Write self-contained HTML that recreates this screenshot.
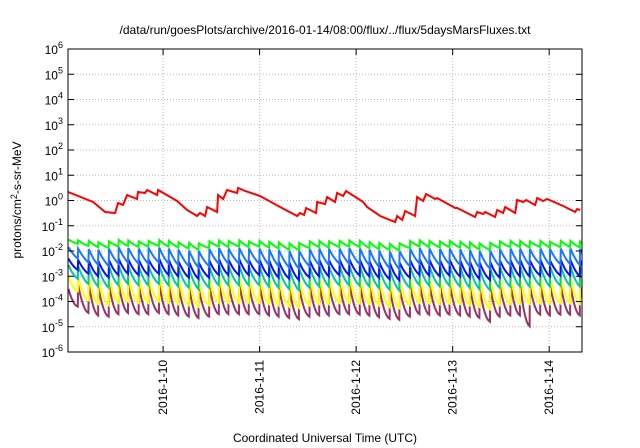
<!DOCTYPE html>
<html><head><meta charset="utf-8"><style>
html,body{margin:0;padding:0;background:#fff;}
svg{display:block;font-family:"Liberation Sans",sans-serif;}
</style></head><body>
<svg id="chart" width="640" height="448" viewBox="0 0 640 448" xmlns="http://www.w3.org/2000/svg">
<rect width="640" height="448" fill="#fff"/>
<text x="325" y="34" font-size="12" text-anchor="middle" fill="#000">/data/run/goesPlots/archive/2016-01-14/08:00/flux/../flux/5daysMarsFluxes.txt</text>
<text transform="translate(21,200) rotate(-90)" font-size="12" text-anchor="middle" fill="#000">protons/cm<tspan font-size="9" dy="-4">2</tspan><tspan dy="4">-s-sr-MeV</tspan></text>
<text x="325" y="442" font-size="12" text-anchor="middle" fill="#000">Coordinated Universal Time (UTC)</text>
<g id="grid"></g><g id="series"></g><g id="axes"></g>
</svg>
<script>
// ---- data ----
const yTickExps = [-6,-5,-4,-3,-2,-1,0,1,2,3,4,5,6];
const xTickDays = [10,11,12,13,14];
const xTickLabels = ["2016-1-10","2016-1-11","2016-1-12","2016-1-13","2016-1-14"];
const redT = [9.016,9.275,9.40,9.503,9.534,9.585,9.627,9.73,9.74,9.813,9.834,9.938,9.948,10.145,10.249,10.352,10.383,10.435,10.456,10.56,10.57,10.622,10.663,10.767,10.777,10.85,11.005,11.212,11.389,11.42,11.461,11.482,11.585,11.596,11.679,11.699,11.782,11.803,11.865,11.896,12.073,12.114,12.249,12.404,12.425,12.477,12.508,12.611,12.632,12.694,12.725,12.819,12.839,13.026,13.047,13.233,13.254,13.316,13.337,13.440,13.461,13.523,13.544,13.648,13.668,13.731,13.762,13.855,13.876,13.938,13.979,14.145,14.269,14.290,14.321];
const redV = [0.337,-0.059,-0.455,-0.495,-0.099,-0.178,0.218,0.059,0.337,0.297,0.416,0.218,0.416,-0.02,-0.376,-0.614,-0.495,-0.614,-0.257,-0.455,0.218,0.059,0.416,0.297,0.5,0.376,0.178,-0.257,-0.614,-0.495,-0.574,-0.297,-0.495,-0.059,-0.139,0.139,-0.059,0.297,0.178,0.376,-0.059,-0.257,-0.614,-0.851,-0.614,-0.772,-0.416,-0.614,0.139,-0.02,0.257,0.059,0.099,-0.297,-0.297,-0.653,-0.455,-0.535,-0.455,-0.653,-0.376,-0.495,-0.257,-0.495,0.02,-0.059,0.02,-0.178,0.099,-0.02,0.059,-0.218,-0.455,-0.337,-0.376];
const toothT = [9.02,9.12,9.23,9.33,9.44,9.54,9.64,9.75,9.85,9.96,10.06,10.16,10.27,10.37,10.48,10.58,10.68,10.79,10.89,11.00,11.10,11.20,11.31,11.41,11.52,11.62,11.72,11.83,11.93,12.04,12.14,12.24,12.35,12.45,12.56,12.66,12.76,12.87,12.97,13.08,13.18,13.28,13.39,13.49,13.60,13.70,13.80,13.91,14.01,14.12,14.22,14.32,14.42];
const greenPeak = [-1.55,-1.58,-1.6,-1.65,-1.62,-1.56,-1.58,-1.62,-1.6,-1.57,-1.6,-1.65,-1.68,-1.7,-1.62,-1.58,-1.6,-1.58,-1.62,-1.6,-1.63,-1.66,-1.7,-1.68,-1.62,-1.6,-1.62,-1.6,-1.58,-1.6,-1.65,-1.68,-1.72,-1.7,-1.6,-1.58,-1.6,-1.62,-1.6,-1.63,-1.66,-1.7,-1.68,-1.62,-1.6,-1.6,-1.62,-1.6,-1.63,-1.6,-1.6,-1.62,-1.6];
const greenLow = [-1.72,-1.8,-1.85,-1.88,-1.82,-1.8,-1.84,-1.82,-1.8,-1.82,-1.86,-1.9,-1.95,-1.88,-1.82,-1.84,-1.82,-1.84,-1.82,-1.86,-1.9,-1.95,-1.96,-1.88,-1.84,-1.86,-1.84,-1.82,-1.84,-1.88,-1.92,-1.96,-1.98,-1.88,-1.82,-1.84,-1.86,-1.84,-1.86,-1.9,-1.94,-1.96,-1.88,-1.84,-1.84,-1.86,-1.84,-1.86,-1.84,-1.84,-1.86,-1.86,-1.86];
const lblueLow = [-2.3,-2.45,-2.55,-2.6,-2.5,-2.45,-2.5,-2.5,-2.45,-2.5,-2.55,-2.6,-2.65,-2.6,-2.5,-2.5,-2.5,-2.5,-2.5,-2.55,-2.6,-2.65,-2.7,-2.6,-2.55,-2.55,-2.5,-2.5,-2.52,-2.56,-2.62,-2.68,-2.72,-2.6,-2.5,-2.52,-2.55,-2.52,-2.55,-2.6,-2.65,-2.7,-2.6,-2.55,-2.55,-2.55,-2.52,-2.55,-2.52,-2.52,-2.55,-2.55,-2.55];
const lbluePeak = [-1.85,-1.9,-1.92,-1.95,-1.9,-1.85,-1.88,-1.9,-1.88,-1.86,-1.9,-1.94,-1.98,-2.0,-1.92,-1.88,-1.9,-1.88,-1.9,-1.9,-1.93,-1.96,-2.0,-1.98,-1.92,-1.9,-1.92,-1.9,-1.88,-1.9,-1.95,-1.98,-2.02,-2.0,-1.9,-1.88,-1.9,-1.92,-1.9,-1.93,-1.96,-2.0,-1.98,-1.92,-1.9,-1.9,-1.92,-1.9,-1.93,-1.9,-1.9,-1.92,-1.9];
const dbluePeak = [-2.3,-2.35,-2.38,-2.4,-2.36,-2.3,-2.33,-2.36,-2.34,-2.3,-2.35,-2.4,-2.44,-2.46,-2.38,-2.33,-2.35,-2.33,-2.36,-2.35,-2.38,-2.42,-2.46,-2.44,-2.38,-2.35,-2.37,-2.35,-2.33,-2.35,-2.4,-2.44,-2.48,-2.46,-2.36,-2.33,-2.35,-2.37,-2.35,-2.38,-2.42,-2.46,-2.44,-2.38,-2.35,-2.35,-2.37,-2.35,-2.38,-2.35,-2.35,-2.37,-2.35];
const dblueLow = [-2.75,-2.9,-3.0,-3.05,-2.95,-2.9,-2.95,-2.95,-2.9,-2.95,-3.0,-3.05,-3.1,-3.05,-2.95,-2.95,-2.95,-2.95,-2.95,-3.0,-3.05,-3.1,-3.15,-3.05,-3.0,-3.0,-2.95,-2.95,-2.97,-3.0,-3.06,-3.12,-3.16,-3.05,-2.95,-2.97,-3.0,-2.97,-3.0,-3.05,-3.1,-3.15,-3.05,-3.0,-3.0,-3.0,-2.97,-3.0,-2.97,-2.97,-3.0,-3.0,-3.0];
const tealPeak = [-2.55,-2.6,-2.62,-2.66,-2.6,-2.55,-2.58,-2.62,-2.6,-2.56,-2.6,-2.66,-2.7,-2.72,-2.63,-2.58,-2.6,-2.58,-2.62,-2.6,-2.63,-2.68,-2.72,-2.7,-2.63,-2.6,-2.62,-2.6,-2.58,-2.6,-2.66,-2.7,-2.74,-2.72,-2.62,-2.58,-2.6,-2.62,-2.6,-2.63,-2.68,-2.72,-2.7,-2.63,-2.6,-2.6,-2.62,-2.6,-2.63,-2.6,-2.6,-2.62,-2.6];
const tealLow = [-3.1,-3.3,-3.4,-3.45,-3.35,-3.3,-3.35,-3.35,-3.3,-3.35,-3.4,-3.45,-3.5,-3.45,-3.35,-3.35,-3.35,-3.35,-3.35,-3.4,-3.45,-3.5,-3.55,-3.45,-3.4,-3.4,-3.35,-3.35,-3.37,-3.4,-3.46,-3.52,-3.56,-3.45,-3.35,-3.37,-3.4,-3.37,-3.4,-3.45,-3.5,-3.55,-3.45,-3.4,-3.4,-3.4,-3.37,-3.4,-3.37,-3.37,-3.4,-3.4,-3.4];
const yellowPeak = [-3.0,-3.05,-3.0,-3.1,-3.02,-2.98,-3.0,-3.05,-3.02,-2.98,-3.02,-3.08,-3.12,-3.15,-3.05,-3.0,-3.02,-3.0,-3.05,-3.02,-3.05,-3.1,-3.15,-3.12,-3.05,-3.02,-3.05,-3.02,-3.0,-3.02,-3.08,-3.12,-3.16,-3.14,-3.04,-3.0,-3.02,-3.05,-3.02,-3.05,-3.1,-3.15,-3.12,-3.05,-3.02,-3.02,-3.05,-3.02,-3.05,-3.02,-3.02,-3.05,-3.02];
const yellowLow = [-3.6,-3.95,-4.1,-4.15,-4.05,-4.0,-4.05,-4.05,-4.0,-4.05,-4.1,-4.15,-4.2,-4.15,-4.05,-4.05,-4.05,-4.05,-4.05,-4.1,-4.15,-4.2,-4.25,-4.15,-4.1,-4.1,-4.05,-4.05,-4.07,-4.1,-4.16,-4.22,-4.26,-4.15,-4.05,-4.07,-4.1,-4.07,-4.1,-4.15,-4.2,-4.3,-4.15,-4.1,-4.1,-4.1,-4.07,-4.1,-4.07,-4.07,-4.1,-4.1,-4.1];
const purplePeak = [-3.5,-3.35,-3.3,-3.45,-3.35,-3.3,-3.35,-3.4,-3.35,-3.3,-3.35,-3.4,-3.45,-3.5,-3.4,-3.3,-3.35,-3.3,-3.4,-3.35,-3.4,-3.45,-3.5,-3.45,-3.4,-3.35,-3.4,-3.35,-3.3,-3.35,-3.4,-3.45,-3.5,-3.48,-3.38,-3.32,-3.35,-3.4,-3.35,-3.4,-3.45,-3.5,-3.45,-3.4,-3.35,-3.35,-3.4,-3.35,-3.4,-3.35,-3.35,-3.4,-3.4];
const purpleLow = [-4.2,-4.45,-4.55,-4.6,-4.5,-4.45,-4.5,-4.5,-4.45,-4.5,-4.55,-4.6,-4.65,-4.6,-4.5,-4.5,-4.5,-4.5,-4.5,-4.55,-4.6,-4.65,-4.7,-4.6,-4.55,-4.55,-4.5,-4.5,-4.52,-4.56,-4.62,-4.68,-4.72,-4.6,-4.5,-4.52,-4.55,-4.52,-4.55,-4.6,-4.65,-4.8,-4.6,-4.55,-4.55,-4.98,-4.52,-4.55,-4.52,-4.52,-4.55,-4.55,-4.55];

// ---- layout ----
const L=68,R=582,T=49,B=352, D0=9.015, D1=14.34, E0=-6, E1=6;
const xs = d => L + (d-D0)/(D1-D0)*(R-L);
const ys = e => B - (e-E0)/(E1-E0)*(B-T);
const NS="http://www.w3.org/2000/svg";
const mk=(tag,attrs,parent)=>{const el=document.createElementNS(NS,tag);for(const k in attrs)el.setAttribute(k,attrs[k]);parent.appendChild(el);return el;};
const grid=document.getElementById('grid'), ser=document.getElementById('series'), axes=document.getElementById('axes');

yTickExps.forEach(e=>{
  const y=ys(e);
  if(e>E0&&e<E1){const g=mk('line',{x1:L,x2:R,y1:y,y2:y,stroke:'#bbb','stroke-width':1,'stroke-dasharray':'1,2'},grid);
  
  }
  const t1=mk('line',{x1:L,x2:L+6,y1:y,y2:y,stroke:'#000'},axes);
  
  
  const t2=mk('line',{x1:R-6,x2:R,y1:y,y2:y,stroke:'#000'},axes);
  
  
  const tx=mk('text',{x:L-5,y:y+5,'font-size':12,'text-anchor':'end',fill:'#000'},axes);
  
  
  tx.textContent='10';
  const sp=document.createElementNS(NS,'tspan');sp.setAttribute('font-size','9');sp.setAttribute('dy','-6');sp.textContent=e;tx.appendChild(sp);
});
xTickDays.forEach((d,i)=>{
  const x=xs(d);
  const g=mk('line',{x1:x,x2:x,y1:T,y2:B,stroke:'#bbb','stroke-width':1,'stroke-dasharray':'1,2'},grid);
  
  
  const t1=mk('line',{x1:x,x2:x,y1:B,y2:B-6,stroke:'#000'},axes);
  
  
  const t2=mk('line',{x1:x,x2:x,y1:T,y2:T+6,stroke:'#000'},axes);
  
  
  const tx=mk('text',{transform:`translate(${x+4},360) rotate(-90)`,'font-size':12,'text-anchor':'end',fill:'#000'},axes);
  
  
  tx.textContent=xTickLabels[i];
});
const frame=mk('rect',{x:L,y:T,width:R-L,height:B-T,fill:'none',stroke:'#000','stroke-width':1},axes);



const clip=mk('clipPath',{id:'pc'},ser);mk('rect',{x:L,y:T,width:R-L,height:B-T},clip);
function sawPath(peaks,lows,curv){
  let p='';
  for(let i=0;i<toothT.length-1;i++){
    const t0=toothT[i],t1=toothT[i+1],a=peaks[i],b=lows[i];
    for(let k=0;k<=6;k++){const f=k/6;const g=curv*(1-(1-f)*(1-f))+(1-curv)*f;const v=a-(a-b)*g;const t=t0+(t1-t0)*f*0.97;
      p+=(p?'L':'M')+xs(t).toFixed(1)+','+ys(v).toFixed(1);}
  }
  return p;
}
const sawSeries=[
  ['purple-series',purplePeak,purpleLow,'#993366',0.9],
  ['yellow-series',yellowPeak,yellowLow,'#ffff00',0.8],
  ['teal-series',tealPeak,tealLow,'#00c8a0',0.6],
  ['dark-blue-series',dbluePeak,dblueLow,'#0a14f0',0.5],
  ['light-blue-series',lbluePeak,lblueLow,'#1a78ff',0.4],
  ['green-series',greenPeak,greenLow,'#00ff00',0.3]
];
sawSeries.forEach(s=>{
  const el=mk('path',{d:sawPath(s[1],s[2],s[4]),fill:'none',stroke:s[3],'stroke-width':2,'stroke-linejoin':'miter','clip-path':'url(#pc)'},ser);
  
  
});
let rp='';redT.forEach((t,i)=>{rp+=(i?'L':'M')+xs(t).toFixed(1)+','+ys(redV[i]).toFixed(1);});
const red=mk('path',{d:rp,fill:'none',stroke:'#ff0000','stroke-width':2,'clip-path':'url(#pc)'},ser);


</script>
</body></html>
